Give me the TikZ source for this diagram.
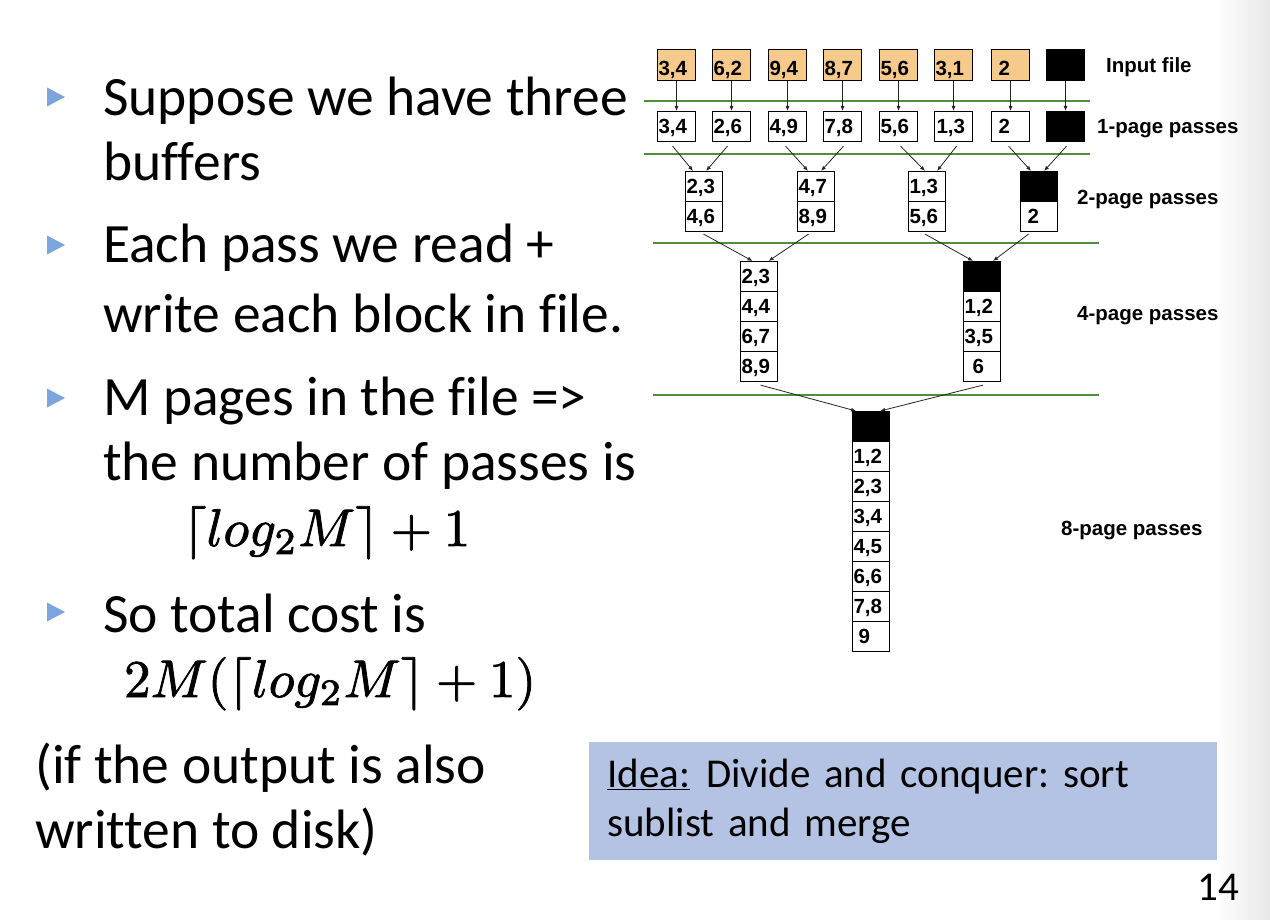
\documentclass[tikz,border=0pt]{standalone}
\usepackage{fontspec}
\setmainfont{Carlito}[Ligatures=CommonOff]
\newfontfamily\diagfont{Liberation Sans}
\usetikzlibrary{arrows.meta}
\frenchspacing

\definecolor{bulletblue}{HTML}{7BA5DC}
\definecolor{inputorange}{HTML}{F6C98C}
\definecolor{passgreen}{HTML}{4F8F3A}
\definecolor{ideablue}{HTML}{B4C3E3}

% heavier strokes for the formulas (fill + stroke text rendering)
\newcommand{\heavy}[1]{\special{pdf:literal direct 2 Tr 0.15 w}#1\special{pdf:literal direct 0 Tr}}

\tikzset{
  body/.style={anchor=base west, inner sep=0pt, font=\fontsize{55.5}{66}\selectfont},
  formula/.style={anchor=base west, inner sep=0pt, transform shape, scale=5.3,
    font=\fontsize{10}{12}\selectfont},
  cell/.style={draw=black, line width=1.1pt, anchor=north west, inner xsep=1pt,
    inner ysep=0pt, text width=35pt, minimum height=30pt, align=left,
    text height=14.7pt, text depth=0pt,
    font=\diagfont\bfseries\fontsize{20.5}{24}\selectfont},
  pagecell/.style={cell, text width=36pt},
  incell/.style={pagecell, fill=inputorange, minimum height=31pt, text height=21.7pt},
  blank/.style={fill=black},
  passlabel/.style={anchor=base west, inner sep=0pt,
    font=\diagfont\bfseries\fontsize{20.5}{24}\selectfont},
  conn/.style={draw=black!85, line width=0.8pt, -{Latex[length=5pt,width=4pt]}},
  passline/.style={draw=passgreen, line width=1.2pt},
  ideabox/.style={fill=ideablue, anchor=north west, inner xsep=18pt, inner ysep=0pt,
    text width=592pt, minimum height=118pt, align=left,
    font=\fontsize{41}{49}\selectfont},
}

\newcommand{\bulletmark}[1]{\fill[bulletblue] (47,#1-9.5) -- (65,#1) -- (47,#1+9.5) -- cycle;}

\begin{document}
\begin{tikzpicture}[x=1pt, y=-1pt]
\useasboundingbox (0,0) rectangle (1270,920);
\fill[white] (0,0) rectangle (1270,920);
\shade[left color=white, right color=black!9] (1215,0) rectangle (1270,920);

% ---------- bullet text ----------
\bulletmark{97}
\bulletmark{245}
\bulletmark{398}
\bulletmark{612}
\node[body] (t1a) at (103,116) {Suppose we have three};
\node[body] (t1b) at (103,181) {buffers};
\node[body] (t2a) at (103,263) {Each pass we read +};
\node[body] (t2b) at (103,333) {write each block in file.};
\node[body] (t3a) at (103,415) {M pages in the file =>};
\node[body] (t3b) at (103,480) {the number of passes is};
\node[formula] (t3c) at (182,546) {\heavy{$\lceil log_2M\rceil + 1$}};
\node[body] (t4a) at (103,632) {So total cost is};
\node[formula] (t4b) at (123,697) {\heavy{$2M(\lceil log_2M\rceil + 1)$}};
\node[body] (t5a) at (35,783) {(if the output is also};
\node[body] (t5b) at (35,848) {written to disk)};

% ---------- idea box and page number ----------
\node[ideabox] (idea) at (589,742)
  {\underline{Idea:}\hspace{16pt}Divide and conquer: sort\\sublist and merge};
\node[anchor=base east, inner sep=0pt, font=\fontsize{41}{49}\selectfont] (pg) at (1239,900) {14};

% ---------- pass separators ----------
\draw[passline] (644,101) -- (1090,101);
\draw[passline] (644,154) -- (1090,154);
\draw[passline] (653,243) -- (1099,243);
\draw[passline] (653,395) -- (1099,395);

% ---------- input file ----------
\node[incell] (i1) at (657,49) {3,4};
\node[incell] (i2) at (712,49) {6,2};
\node[incell] (i3) at (768,49) {9,4};
\node[incell] (i4) at (823,49) {8,7};
\node[incell] (i5) at (879,49) {5,6};
\node[incell] (i6) at (934,49) {3,1};
\node[incell] (i7) at (991,49) {\hspace*{6pt}2};
\node[incell, blank] (i8) at (1046,49) {};

% ---------- 1-page passes ----------
\node[pagecell] (p1) at (657,111) {3,4};
\node[pagecell] (p2) at (712,111) {2,6};
\node[pagecell] (p3) at (768,111) {4,9};
\node[pagecell] (p4) at (823,111) {7,8};
\node[pagecell] (p5) at (879,111) {5,6};
\node[pagecell] (p6) at (934,111) {\hspace*{1pt}1,3};
\node[pagecell] (p7) at (991,111) {\hspace*{6pt}2};
\node[pagecell, blank] (p8) at (1046,111) {};

% ---------- 2-page passes ----------
\node[cell] (m1t) at (685,171) {2,3};
\node[cell] (m1b) at (685,201) {4,6};
\node[cell] (m2t) at (797,171) {4,7};
\node[cell] (m2b) at (797,201) {8,9};
\node[cell] (m3t) at (908,171) {1,3};
\node[cell] (m3b) at (908,201) {5,6};
\node[cell, blank] (m4t) at (1020,171) {};
\node[cell] (m4b) at (1020,201) {\hspace*{6pt}2};

% ---------- 4-page passes ----------
\node[cell] (q1a) at (740,261) {2,3};
\node[cell] (q1b) at (740,291) {4,4};
\node[cell] (q1c) at (740,321) {6,7};
\node[cell] (q1d) at (740,351) {8,9};
\node[cell, blank] (q2a) at (963,261) {};
\node[cell] (q2b) at (963,291) {1,2};
\node[cell] (q2c) at (963,321) {3,5};
\node[cell] (q2d) at (963,351) {\hspace*{8pt}6};

% ---------- 8-page passes ----------
\node[cell, blank] (r0) at (852,411) {};
\node[cell] (r1) at (852,441) {1,2};
\node[cell] (r2) at (852,471) {2,3};
\node[cell] (r3) at (852,501) {3,4};
\node[cell] (r4) at (852,531) {4,5};
\node[cell] (r5) at (852,561) {6,6};
\node[cell] (r6) at (852,591) {7,8};
\node[cell] (r7) at (852,621) {\hspace*{5pt}9};

% ---------- row labels ----------
\node[passlabel] (lin) at (1106,73) {Input file};
\node[passlabel] (l1) at (1097,134) {1-page passes};
\node[passlabel] (l2) at (1077,205) {2-page passes};
\node[passlabel] (l4) at (1077,320) {4-page passes};
\node[passlabel] (l8) at (1061,535) {8-page passes};

% ---------- input -> 1-page ----------
\foreach \k in {1,...,8} { \draw[conn] (i\k) -- (p\k); }

% ---------- 1-page -> 2-page ----------
\draw[conn] ([shift={(-4,4)}]p1.south) -- ([xshift=-11pt]m1t.north);
\draw[conn] ([shift={(-4,4)}]p2.south) -- ([xshift=2pt]m1t.north);
\draw[conn] ([shift={(-2,4)}]p3.south) -- ([xshift=-8pt]m2t.north);
\draw[conn] ([shift={(1,4)}]p4.south)  -- ([xshift=5pt]m2t.north);
\draw[conn] ([shift={(2,4)}]p5.south)  -- ([xshift=-2pt]m3t.north);
\draw[conn] ([shift={(3,4)}]p6.south)  -- ([xshift=10pt]m3t.north);
\draw[conn] ([shift={(-2,4)}]p7.south) -- ([xshift=-8pt]m4t.north);
\draw[conn] ([shift={(1,4)}]p8.south)  -- ([xshift=5pt]m4t.north);

% ---------- 2-page -> 4-page ----------
\draw[conn] ([shift={(-0.5,2)}]m1b.south)  -- ([xshift=-6.5pt]q1a.north);
\draw[conn] ([shift={(-7.5,2)}]m2b.south)  -- ([xshift=9.5pt]q1a.north);
\draw[conn] ([shift={(-2,2)}]m3b.south)    -- ([xshift=-9pt]q2a.north);
\draw[conn] ([shift={(-10.5,2)}]m4b.south) -- ([xshift=11pt]q2a.north);

% ---------- 4-page -> 8-page ----------
\draw[conn] ([shift={(1.5,3)}]q1d.south) -- ([xshift=-15pt]r0.north);
\draw[conn] ([shift={(1,3)}]q2d.south)   -- ([xshift=9pt]r0.north);
\end{tikzpicture}
\end{document}
